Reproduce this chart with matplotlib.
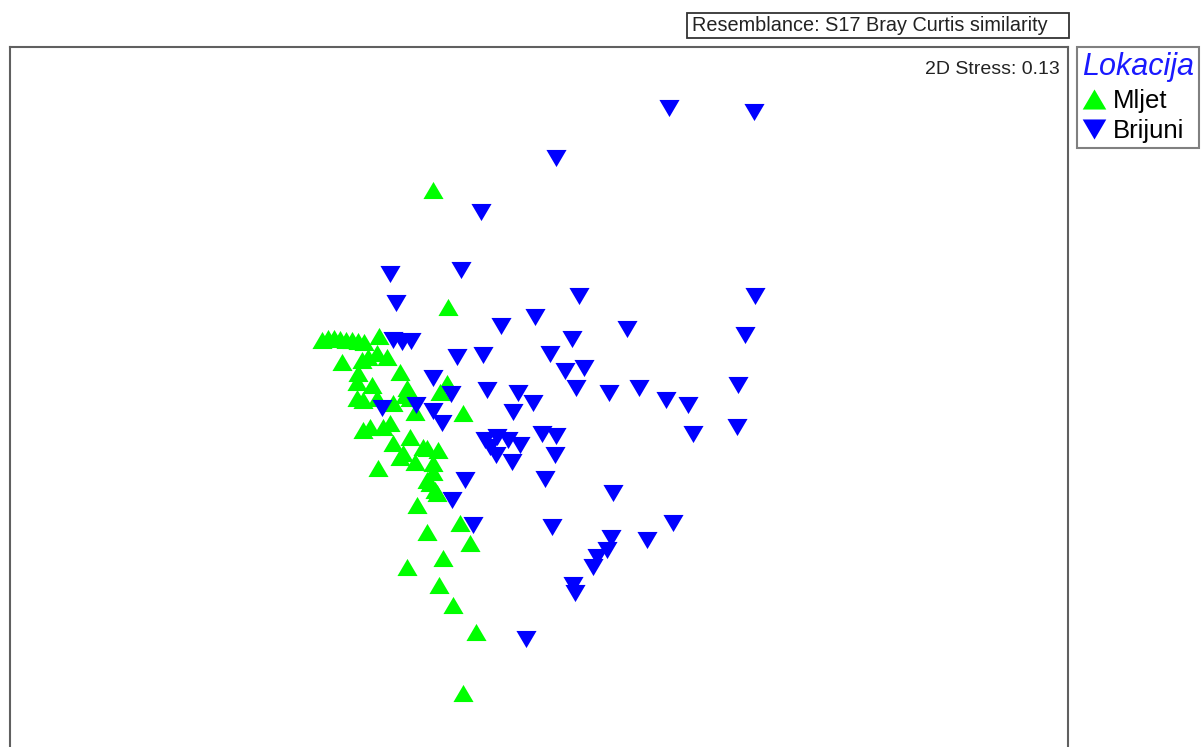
import matplotlib
matplotlib.use('Agg')
import matplotlib.pyplot as plt
from matplotlib.lines import Line2D
from matplotlib.patches import Rectangle

plt.rcParams['font.family'] = ['Liberation Sans', 'DejaVu Sans']

# nMDS ordination scores (plot units, y grows downwards)
mljet_x = [433, 448, 322, 328, 334, 340, 346, 352, 358, 364, 379,
           342, 362, 368, 377, 387, 400, 358, 357, 372, 407, 447, 440,
           357, 363, 377, 393, 405, 410, 463, 415,
           363, 370, 383, 390, 393, 410, 427, 438, 400, 415, 433, 378, 423, 403,
           427, 435, 433, 430, 437, 417, 460, 427, 470, 443, 407, 439, 453, 476, 463]
mljet_y = [190, 307, 340, 338, 338, 339, 340, 340, 341, 342, 336,
           362, 360, 357, 353, 357, 372, 373, 382, 385, 388, 383, 392,
           398, 400, 398, 403, 395, 398, 413, 412,
           430, 427, 427, 423, 443, 437, 448, 450, 457, 462, 463, 468, 447, 453,
           480, 490, 472, 483, 493, 505, 523, 532, 543, 558, 567, 585, 605, 632, 693]

brijuni_x = [669, 754, 556, 481, 461, 390, 396, 579, 755, 535, 501, 627, 572, 745,
             393, 402, 411,
             457, 483, 550, 565, 584, 433, 576, 487, 451, 518, 533, 513, 416, 433, 442, 382,
             609, 639, 738, 666, 688, 693, 737, 542, 556, 555, 545, 465, 452,
             485, 497, 508, 520, 496, 512, 490,
             613, 473, 552, 673, 611, 647, 607, 597, 593, 573, 575, 526]
brijuni_y = [108, 112, 158, 212, 270, 274, 303, 296, 296, 317, 326, 329, 339, 335,
             340, 342, 341,
             357, 355, 354, 371, 368, 378, 388, 390, 394, 393, 403, 412, 405, 411, 423, 408,
             393, 388, 385, 400, 405, 434, 427, 434, 436, 455, 479, 480, 500,
             440, 437, 440, 445, 455, 462, 447,
             493, 525, 527, 523, 538, 540, 550, 557, 567, 585, 593, 639]

groups = ['Mljet', 'Brijuni']
colors = ['#00ff00', '#0000ff']

up_tri = [(0, 0.85), (-1, -0.85), (1, -0.85)]
down_tri = [(0, -0.85), (-1, 0.85), (1, 0.85)]

W, H = 1201, 747
fig = plt.figure(figsize=(W / 100, H / 100), dpi=100)
ax = fig.add_axes([10 / W, 1 - 765 / H, 1058 / W, 718 / H])

ax.scatter(mljet_x, mljet_y, marker=up_tri, s=210, c=colors[0], linewidths=0)
ax.scatter(brijuni_x, brijuni_y, marker=down_tri, s=210, c=colors[1], linewidths=0)

ax.set_xlim(10, 1068)
ax.set_ylim(765, 47)
ax.set_xticks([])
ax.set_yticks([])
for sp in ax.spines.values():
    sp.set_color('#606060')
    sp.set_linewidth(1.5)

ax.text(0.992, 0.969, '2D Stress: 0.13', transform=ax.transAxes,
        ha='right', va='center', fontsize=14, color='#222222')

# resemblance box above the plot
fig.patches.append(Rectangle((687 / W, 1 - 38 / H), 382 / W, 25 / H,
                             transform=fig.transFigure, fc='white',
                             ec='#333333', lw=1.3))
fig.text(692 / W, 1 - 25.5 / H, 'Resemblance: S17 Bray Curtis similarity',
         ha='left', va='center', fontsize=14.3, color='#222222')

handles = [Line2D([], [], ls='none', marker=up_tri, ms=17, color=colors[0], mew=0),
           Line2D([], [], ls='none', marker=down_tri, ms=17, color=colors[1], mew=0)]
leg = fig.legend(handles, groups, loc='upper left',
                 bbox_to_anchor=(1077 / W, 1 - 47 / H), fontsize=18.5,
                 title='Lokacija', title_fontsize=22, frameon=True,
                 fancybox=False, edgecolor='#606060', borderpad=0.2,
                 handletextpad=0.3, handlelength=0.9, labelspacing=0.25,
                 borderaxespad=0, alignment='left')
leg.get_frame().set_linewidth(1.5)
leg.get_title().set_color('#1a1aff')
leg.get_title().set_fontstyle('italic')

fig.savefig('out.png', dpi=100)
